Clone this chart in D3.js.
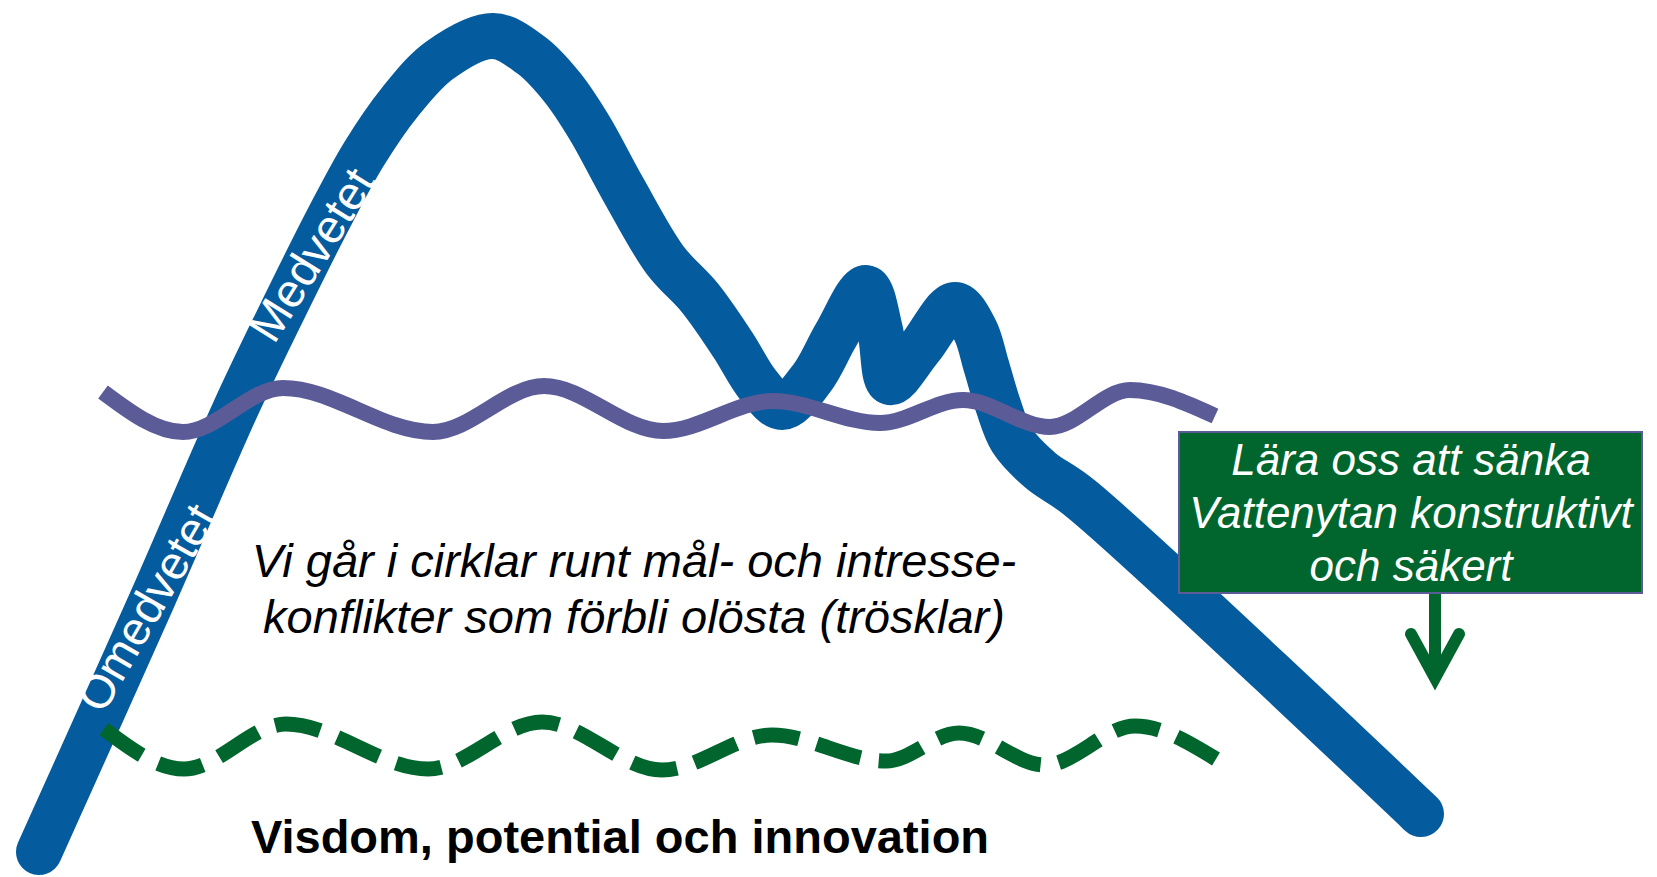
<!DOCTYPE html>
<html><head><meta charset="utf-8">
<script src="https://cdn.jsdelivr.net/npm/d3@7"></script>
<style>html,body{margin:0;padding:0;background:#fff;overflow:hidden}</style>
</head><body>
<svg id="chart" width="1657" height="877"></svg>
<script>
// ---- data (diagram units) ----
const curveX = [39,152,235,278,330,364,400,440,493,531,562,589,623,665,700,733,758,782,812,836,866,880,890,920,955,975,986,998,1012,1040,1080,1421];
const curveY = [852,600,410,320,216,154,102,60,36,55,87,127,189,260,298,345,385,407,378,335,288,330,382,348,305,330,365,405,440,470,498,814];
const surfaceX = [103,183,283,433,544,663,773,880,963,1050,1130,1215];
const surfaceY = [392,432,388,432,386,431,401,423,400,427,390,416];
const wisdomX = [104,184,286,428,542,662,772,886,959,1045,1135,1216];
const wisdomY = [729,769,724,769,722,770,735,761,733,765,726,759];
const curveLabels = ["Omedvetet","Medvetet"];
const middleText = ["Vi går i cirklar runt mål- och intresse-","konflikter som förbli olösta (trösklar)"];
const bottomText = ["Visdom, potential och innovation"];
const boxText = ["Lära oss att sänka","Vattenytan konstruktivt","och säkert"];

// ---- scales ----
const W = 1657, H = 877;
const x = d3.scaleLinear().domain([0, 1657]).range([0, W]);
const y = d3.scaleLinear().domain([0, 877]).range([0, H]);
const svg = d3.select("#chart");
const FONT = "'Liberation Sans', Arial, Helvetica, sans-serif";
const BLUE = "#045B9D", PURPLE = "#5B5B98", GREEN = "#00662D";

const zip = (xs, ys) => xs.map((v, i) => [v, ys[i]]);

// blue curve
const blueLine = d3.line().x(d => x(d[0])).y(d => y(d[1])).curve(d3.curveCatmullRom.alpha(0.5));
svg.append("path").attr("d", blueLine(zip(curveX, curveY)))
  .attr("fill", "none").attr("stroke", BLUE).attr("stroke-width", 46)
  .attr("stroke-linecap", "round").attr("stroke-linejoin", "round");

// labels on curve
const labelPos = [{cx: 147, cy: 608, a: -60}, {cx: 312, cy: 255, a: -58}];
curveLabels.forEach((t, i) => {
  const p = labelPos[i];
  svg.append("text").text(t)
    .attr("transform", `translate(${x(p.cx)},${y(p.cy)}) rotate(${p.a})`)
    .attr("text-anchor", "middle").attr("dy", "0.33em")
    .attr("font-family", FONT).attr("font-size", 47).attr("fill", "#fff");
});

// purple water surface
const waveLine = d3.line().x(d => x(d[0])).y(d => y(d[1])).curve(d3.curveMonotoneX);
svg.append("path").attr("d", waveLine(zip(surfaceX, surfaceY)))
  .attr("fill", "none").attr("stroke", PURPLE).attr("stroke-width", 16);

// green dashed
const gp = svg.append("path").attr("d", waveLine(zip(wisdomX, wisdomY)))
  .attr("fill", "none").attr("stroke", GREEN).attr("stroke-width", 15);
const L = gp.node().getTotalLength();
const nd = 19, ratio = 0.4;
const dl = L / (nd + (nd - 1) * ratio);
gp.attr("stroke-dasharray", `${dl},${dl * ratio}`);

// middle italic text
middleText.forEach((t, i) => {
  svg.append("text").text(t).attr("x", x(634)).attr("y", y(577 + i * 56))
    .attr("text-anchor", "middle").attr("font-family", FONT)
    .attr("font-style", "italic").attr("font-size", 47).attr("fill", "#000");
});
// bottom bold text
svg.append("text").text(bottomText[0]).attr("x", x(620)).attr("y", y(853))
  .attr("text-anchor", "middle").attr("font-family", FONT)
  .attr("font-weight", "bold").attr("font-size", 47).attr("fill", "#000");

// green box
svg.append("rect").attr("x", x(1179)).attr("y", y(432))
  .attr("width", x(1642) - x(1179)).attr("height", y(593) - y(432))
  .attr("fill", GREEN).attr("stroke", PURPLE).attr("stroke-width", 2);
boxText.forEach((t, i) => {
  svg.append("text").text(t).attr("x", x(1411)).attr("y", y(475 + i * 53))
    .attr("text-anchor", "middle").attr("font-family", FONT)
    .attr("font-style", "italic").attr("font-size", 44).attr("fill", "#fff");
});

// arrow
svg.append("line").attr("x1", x(1435)).attr("x2", x(1435)).attr("y1", y(594)).attr("y2", y(672))
  .attr("stroke", GREEN).attr("stroke-width", 12);
svg.append("path").attr("d", `M${x(1411)},${y(634)} L${x(1435)},${y(678)} L${x(1459)},${y(634)}`)
  .attr("fill", "none").attr("stroke", GREEN).attr("stroke-width", 12)
  .attr("stroke-linecap", "round").attr("stroke-linejoin", "miter");
</script>
</body></html>
